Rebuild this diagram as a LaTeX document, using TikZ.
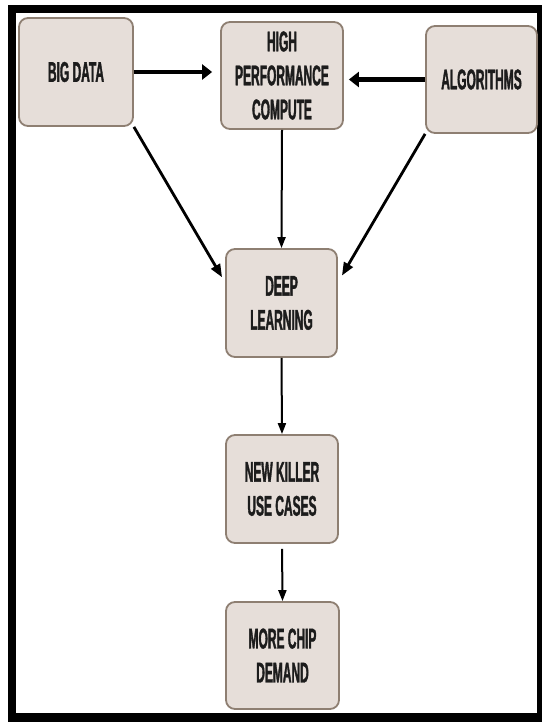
\documentclass[tikz,border=0pt]{standalone}
\usepackage{fontspec}
\newfontfamily\boxfont{Liberation Sans Bold}[FakeStretch=0.42,FakeBold=1.2]
\usepackage{tikz}
\usetikzlibrary{arrows.meta}
\definecolor{boxfill}{HTML}{E6DED9}
\definecolor{boxline}{HTML}{8E7F72}
\definecolor{boxtext}{HTML}{1C1C1C}

\begin{document}
\begin{tikzpicture}[x=1pt,y=-1pt]
    \tikzstyle{every node} = [font=\boxfont\fontsize{28.5}{34}\selectfont, text=boxtext]
    \tikzstyle{block} = [draw=boxline, line width=1.8pt, rectangle, fill=boxfill, rounded corners=9pt, inner sep=0pt, minimum width=112pt, minimum height=107pt, align=center]
    \tikzstyle{bigarrow} = [-{Triangle[length=10pt,width=15pt]}, line width=4.5pt]
    \tikzstyle{midarrow} = [-{Triangle[length=13pt,width=10pt]}, line width=2.8pt]
    \tikzstyle{thinarrow} = [-{Triangle[length=11pt,width=8pt]}, line width=2pt]
    \useasboundingbox (0,0) rectangle (542,722);
    % frame
    \fill[black] (8,5) rectangle (542,722);
    \fill[white] (16,13) rectangle (537,713);

    % place nodes
    \node[block,minimum width=114pt,minimum height=108pt](bigData) at (76,72){BIG DATA};
    \node[block,minimum width=122pt](highPerfCompute) at (282,75.5){HIGH\\PERFORMANCE\\COMPUTE};
    \node[block,minimum width=111pt](algorithms) at (481.5,79.5){ALGORITHMS};
    \node[block,minimum width=111pt,minimum height=108pt](deepLearning) at (281.5,303){DEEP\\LEARNING};
    \node[block,minimum height=108pt](killerUseCases) at (282,489){NEW KILLER\\USE CASES};
    \node[block,minimum width=113pt](chipDemand) at (282.5,655.5){MORE CHIP\\DEMAND};

    % Connections
    \draw[bigarrow,shorten >=8pt]
    (bigData.east)--(bigData.east -| highPerfCompute.west);
    \draw[bigarrow,shorten >=5pt]
    (algorithms.west)--(algorithms.west -| highPerfCompute.east);
    \draw[thinarrow]
    (highPerfCompute.south)--(deepLearning.north);
    \draw[midarrow,shorten >=6pt]
    (bigData.south east)--(deepLearning.160);
    \draw[midarrow,shorten >=8pt]
    (algorithms.south west)--(deepLearning.20);
    \draw[thinarrow]
    (deepLearning.south)--(killerUseCases.north);
    \draw[thinarrow,shorten <=5pt]
    (killerUseCases.south)--(chipDemand.north);

\end{tikzpicture}
\end{document}
